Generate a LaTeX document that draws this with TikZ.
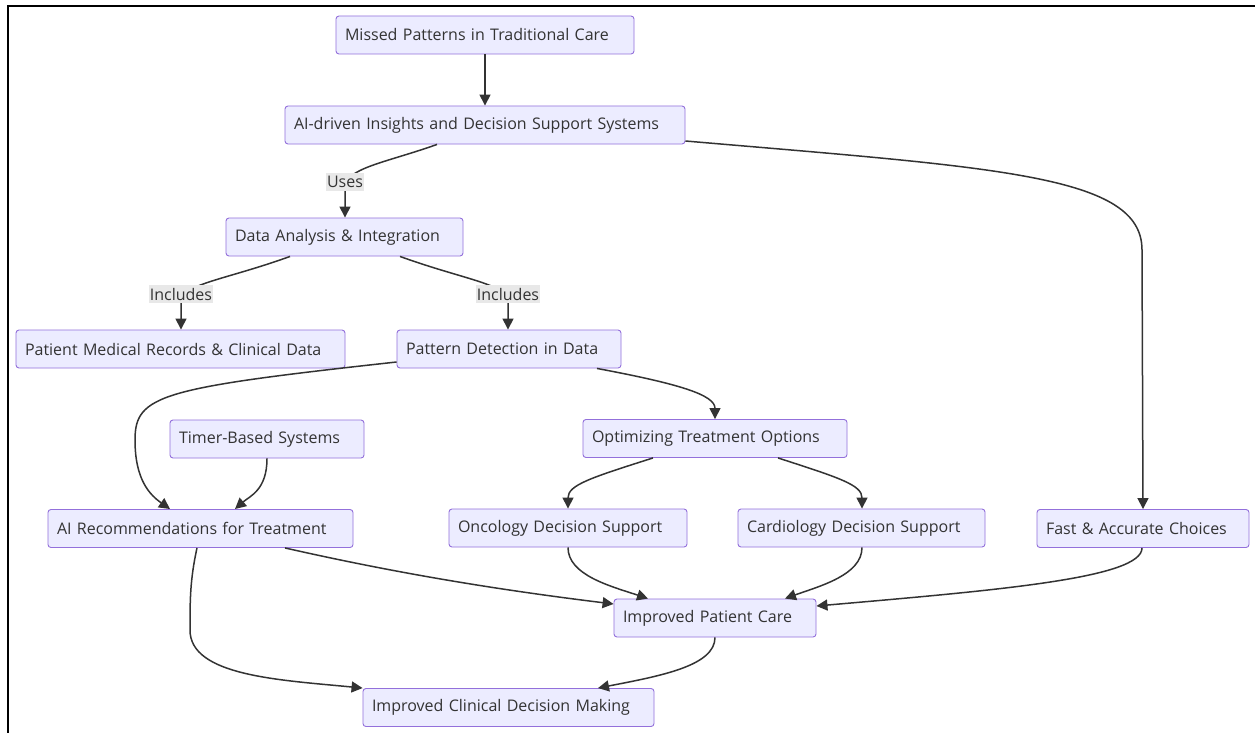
\documentclass[tikz,border=0pt]{standalone}
\usepackage{fontspec}
\setmainfont{Open Sans}
\usetikzlibrary{arrows.meta}
\definecolor{boxfill}{HTML}{ECECFF}
\definecolor{boxdraw}{HTML}{9370DB}
\definecolor{ink}{HTML}{333333}
\definecolor{lblbg}{HTML}{E8E8E8}
\tikzset{
  box/.style={rectangle, rounded corners=3pt, draw=boxdraw, fill=boxfill, line width=0.9pt,
    text=ink, font=\fontsize{16}{18}\selectfont, align=left, inner xsep=9pt, inner ysep=0pt, minimum height=38pt},
  edge/.style={draw=ink, line width=1.5pt, -{Triangle[length=11pt,width=11pt]}},
  lbl/.style={fill=lblbg, text=ink, font=\fontsize{16}{18}\selectfont, inner xsep=1pt, inner ysep=3pt}
}
\begin{document}
\begin{tikzpicture}[x=1pt,y=-1pt]
\useasboundingbox (0,0) rectangle (1255,733);
\fill[white] (0,0) rectangle (1255,733);
\draw[line width=2pt,black] (7.5,733) -- (7.5,6.5) -- (1255,6.5);

\node[box, text width=280pt] (miss) at (485,35) {Missed Patterns in Traditional Care};
\node[box, text width=382pt] (ai) at (485,125) {AI-driven Insights and Decision Support Systems};
\node[box, text width=219pt] (data) at (344.5,237) {Data Analysis \& Integration};
\node[box, text width=311pt] (pat) at (180.5,349) {Patient Medical Records \& Clinical Data};
\node[box, text width=206pt] (pd) at (509,349) {Pattern Detection in Data};
\node[box, text width=176pt] (timer) at (267,439) {Timer-Based Systems};
\node[box, text width=246pt] (opt) at (715,438.5) {Optimizing Treatment Options};
\node[box, text width=287pt] (airec) at (200.5,528.5) {AI Recommendations for Treatment};
\node[box, text width=220pt] (onc) at (568,528) {Oncology Decision Support};
\node[box, text width=229pt] (card) at (861.5,528) {Cardiology Decision Support};
\node[box, text width=194pt] (fast) at (1143,528.5) {Fast \& Accurate Choices};
\node[box, text width=184pt] (ipc) at (715,618) {Improved Patient Care};
\node[box, text width=273pt] (icd) at (508.5,707.5) {Improved Clinical Decision Making};

\draw[edge] (miss) -- (ai);
\draw[edge] (ai.south -| 437,0) .. controls (385,163) and (345,168) .. (345,188) -- (data.north -| 345,0);
\draw[edge] (ai.east |- 0,141) .. controls (1000,168) and (1142,175) .. (1142,250) -- (fast.north);
\draw[edge] (data.south -| 290,0) .. controls (225,280) and (181,284) .. (181,302) -- (pat.north -| 181,0);
\draw[edge] (data.south -| 400,0) .. controls (465,280) and (508,284) .. (508,302) -- (pd.north -| 508,0);
\draw[edge] (pd.west |- 0,362) .. controls (160,388) and (135,395) .. (135,440) .. controls (135,480) and (150,495) .. (170,509);
\draw[edge] (timer.south) .. controls (267,490) and (250,496) .. (235,509);
\draw[edge] (pd.south -| 597,0) .. controls (680,384) and (715,395) .. (opt.north);
\draw[edge] (opt.south -| 653,0) .. controls (590,478) and (568,485) .. (onc.north);
\draw[edge] (opt.south -| 778,0) .. controls (840,478) and (862,485) .. (card.north -| 862,0);
\draw[edge] (onc.south) .. controls (568,575) and (610,586) .. (ipc.north -| 648,0);
\draw[edge] (card.south -| 862,0) .. controls (862,575) and (820,586) .. (ipc.north -| 785,0);
\draw[edge] (airec.south -| 285,0) .. controls (400,574) and (500,590) .. (ipc.west |- 0,604);
\draw[edge] (fast.south -| 1142,0) .. controls (1142,578) and (1000,590) .. (ipc.east |- 0,606);
\draw[edge] (airec.south -| 197,0) .. controls (190,580) and (190,600) .. (190,630) .. controls (190,676) and (280,680) .. (icd.north west);
\draw[edge] (ipc.south) .. controls (715,666) and (660,676) .. (icd.north -| 598,0);

\node[lbl] (uses) at (345,182) {Uses};
\node[lbl] (inc1) at (181,294) {Includes};
\node[lbl] (inc2) at (508,294) {Includes};
\end{tikzpicture}
\end{document}
